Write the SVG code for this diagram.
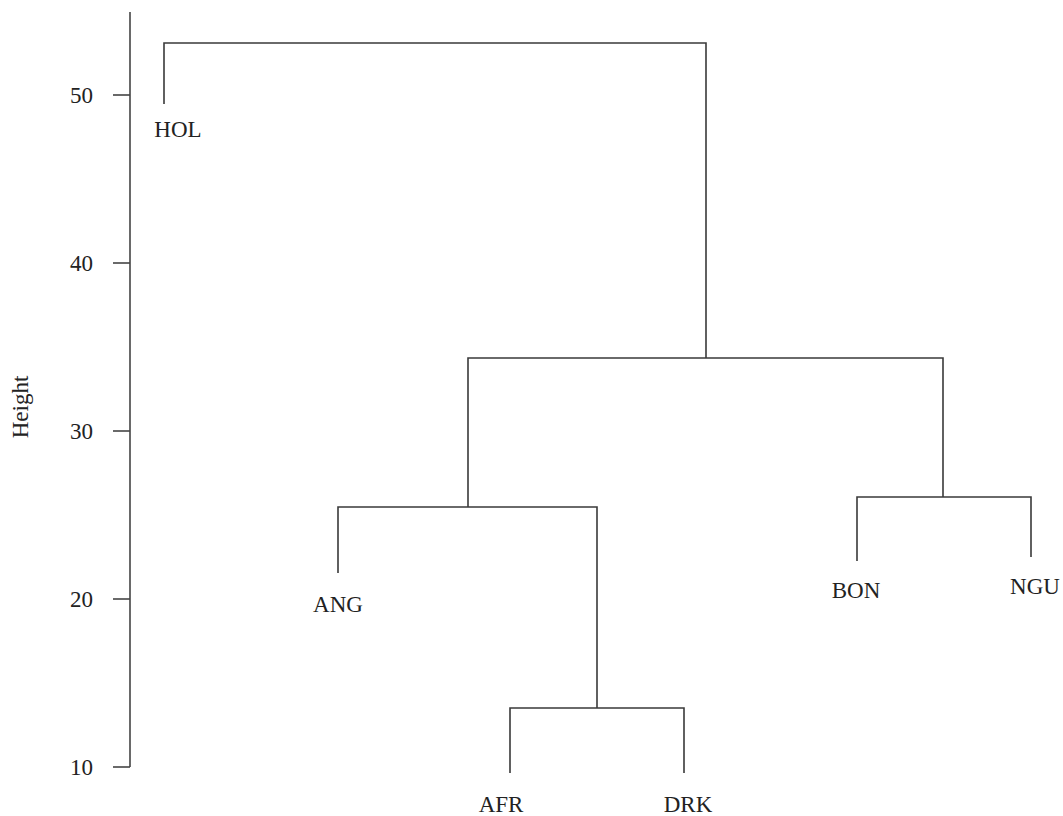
<svg xmlns="http://www.w3.org/2000/svg" width="1063" height="816" viewBox="0 0 1063 816">
<style>
.ln{fill:none;stroke:#3a3a3a;stroke-width:1.6;stroke-linecap:butt}
.ax{fill:none;stroke:#444;stroke-width:1.6}
text{font-family:"Liberation Serif","Times New Roman",serif;font-size:23px;fill:#222}
.lab{text-anchor:middle}
.tk{text-anchor:end}
</style>
<rect width="1063" height="816" fill="#fff"/>
<g id="axis">
<line class="ax" x1="130" y1="12" x2="130" y2="767"/>
<line class="ax" x1="113" y1="95" x2="130" y2="95"/>
<line class="ax" x1="113" y1="263" x2="130" y2="263"/>
<line class="ax" x1="113" y1="431" x2="130" y2="431"/>
<line class="ax" x1="113" y1="599" x2="130" y2="599"/>
<line class="ax" x1="113" y1="767" x2="130" y2="767"/>
<text class="tk" x="93" y="103">50</text>
<text class="tk" x="93" y="271">40</text>
<text class="tk" x="93" y="439">30</text>
<text class="tk" x="93" y="607">20</text>
<text class="tk" x="93" y="775">10</text>
<text transform="translate(28,407) rotate(-90)" text-anchor="middle">Height</text>
</g>
<g id="connectors">
<path class="ln" d="M164,104 V43 H706 V358"/>
<path class="ln" d="M468,507 V358 H943 V497"/>
<path class="ln" d="M338,573 V507 H597 V708"/>
<path class="ln" d="M510,773 V708 H684 V773"/>
<path class="ln" d="M857,561 V497 H1031 V557"/>
</g>
<g id="HOL"><text class="lab" x="178" y="137">HOL</text></g>
<g id="ANG"><text class="lab" x="338" y="612">ANG</text></g>
<g id="AFR"><text class="lab" x="501" y="812">AFR</text></g>
<g id="DRK"><text class="lab" x="688" y="812">DRK</text></g>
<g id="BON"><text class="lab" x="856" y="598">BON</text></g>
<g id="NGU"><text class="lab" x="1035" y="594">NGU</text></g>
</svg>
